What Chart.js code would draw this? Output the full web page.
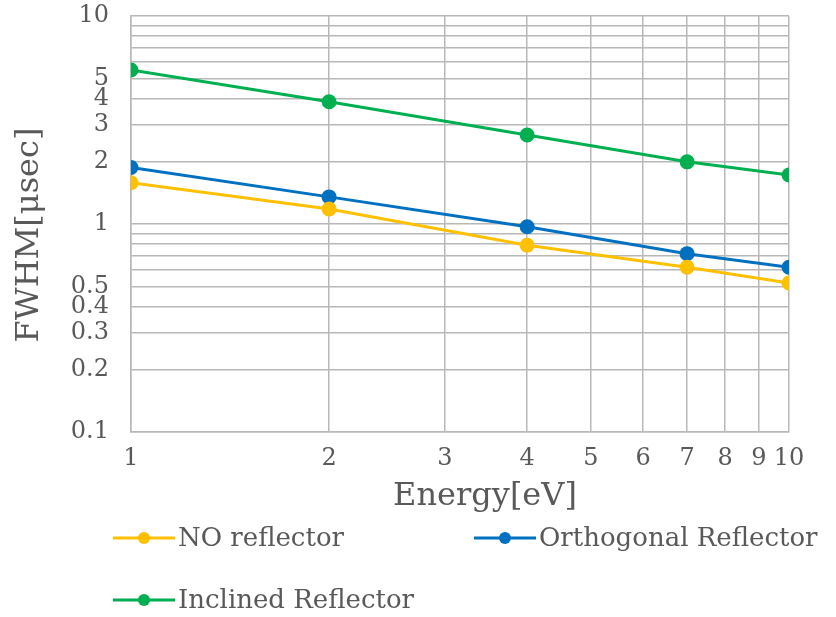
<!DOCTYPE html>
<html lang="en">
<head>
    <meta charset="UTF-8">
    <title>FWHM vs Energy</title>
    <script src="https://cdn.jsdelivr.net/npm/chart.js"></script>
    <style>
        html, body { margin: 0; padding: 0; background: #fff; }
        #wrap { width: 836px; height: 617px; }
    </style>
</head>
<body>
    <div id="wrap"><canvas id="fwhmChart" width="836" height="617"></canvas></div>

    <script>
        // Measured points
        const energy = [1, 2, 4, 7, 10];
        const noReflector = [1.58, 1.18, 0.79, 0.62, 0.52];
        const orthogonalReflector = [1.87, 1.35, 0.97, 0.72, 0.62];
        const inclinedReflector = [5.5, 3.87, 2.68, 1.99, 1.72];

        // Grid lines / tick labels
        const xTicks = [1, 2, 3, 4, 5, 6, 7, 8, 9, 10];
        const yTicks = [0.1, 0.2, 0.3, 0.4, 0.5, 0.6, 0.7, 0.8, 0.9, 1, 2, 3, 4, 5, 6, 7, 8, 9, 10];
        const yLabels = [0.1, 0.2, 0.3, 0.4, 0.5, 1, 2, 3, 4, 5, 10];

        const FONT = "'DejaVu Serif', serif";
        const TEXT = '#595959';
        const GRID = '#b8b8b8';

        const toPoints = ys => energy.map((x, i) => ({ x: x, y: ys[i] }));

        function series(label, ys, color) {
            return {
                label: label,
                data: toPoints(ys),
                borderColor: color,
                backgroundColor: color,
                borderWidth: 3,
                pointRadius: 6,
                pointHoverRadius: 6,
                tension: 0
            };
        }

        // axis titles (set a bit off-centre) and the two-row legend
        const labelsPlugin = {
            id: 'labels',
            afterDraw(chart) {
                const ctx = chart.ctx;
                ctx.save();
                ctx.fillStyle = TEXT;
                ctx.textAlign = 'center';
                ctx.textBaseline = 'middle';
                ctx.font = '32px ' + FONT;
                ctx.fillText('Energy[eV]', 485, 497);

                ctx.save();
                ctx.translate(30, 235);
                ctx.rotate(-Math.PI / 2);
                ctx.fillText('FWHM[\u03bcsec]', 0, 0);
                ctx.restore();

                const spots = [[113, 538], [474, 538], [113, 600]];
                ctx.font = '26px ' + FONT;
                ctx.textAlign = 'left';
                chart.data.datasets.forEach((ds, i) => {
                    const [x, y] = spots[i];
                    ctx.strokeStyle = ds.borderColor;
                    ctx.lineWidth = 3;
                    ctx.beginPath();
                    ctx.moveTo(x, y);
                    ctx.lineTo(x + 62, y);
                    ctx.stroke();
                    ctx.fillStyle = ds.borderColor;
                    ctx.beginPath();
                    ctx.arc(x + 31, y, 6, 0, Math.PI * 2);
                    ctx.fill();
                    ctx.fillStyle = TEXT;
                    ctx.fillText(ds.label, x + 65, y + 1);
                });
                ctx.restore();
            }
        };

        const ctx = document.getElementById('fwhmChart').getContext('2d');
        const chart = new Chart(ctx, {
            type: 'line',
            data: {
                datasets: [
                    series('NO reflector', noReflector, '#ffc000'),
                    series('Orthogonal Reflector', orthogonalReflector, '#0070c0'),
                    series('Inclined Reflector', inclinedReflector, '#00b050')
                ]
            },
            options: {
                responsive: false,
                animation: false,
                layout: { padding: { left: 0, right: 47, top: 16, bottom: 101 } },
                plugins: {
                    legend: { display: false },
                    tooltip: { enabled: false }
                },
                scales: {
                    x: {
                        type: 'logarithmic',
                        min: 1,
                        max: 10,
                        afterBuildTicks: scale => { scale.ticks = xTicks.map(v => ({ value: v })); },
                        afterFit: scale => {
                            scale.height = 84;
                            scale.paddingLeft = 0;
                            scale.paddingRight = 0;
                        },
                        grid: { color: GRID, lineWidth: 1.5, drawTicks: false },
                        border: { color: GRID, width: 1.5 },
                        ticks: {
                            color: TEXT,
                            font: { family: FONT, size: 24 },
                            padding: 12,
                            maxRotation: 0,
                            autoSkip: false,
                            callback: value => String(value)
                        }
                    },
                    y: {
                        type: 'logarithmic',
                        min: 0.1,
                        max: 10,
                        afterBuildTicks: scale => { scale.ticks = yTicks.map(v => ({ value: v })); },
                        afterFit: scale => {
                            scale.width = 131;
                            scale.paddingTop = 0;
                            scale.paddingBottom = 0;
                        },
                        grid: { color: GRID, lineWidth: 1.5, drawTicks: false },
                        border: { color: GRID, width: 1.5 },
                        ticks: {
                            color: TEXT,
                            font: { family: FONT, size: 24 },
                            padding: 22,
                            autoSkip: false,
                            callback: value => yLabels.includes(value) ? String(value) : ''
                        }
                    }
                }
            },
            plugins: [labelsPlugin]
        });
    </script>
</body>
</html>
